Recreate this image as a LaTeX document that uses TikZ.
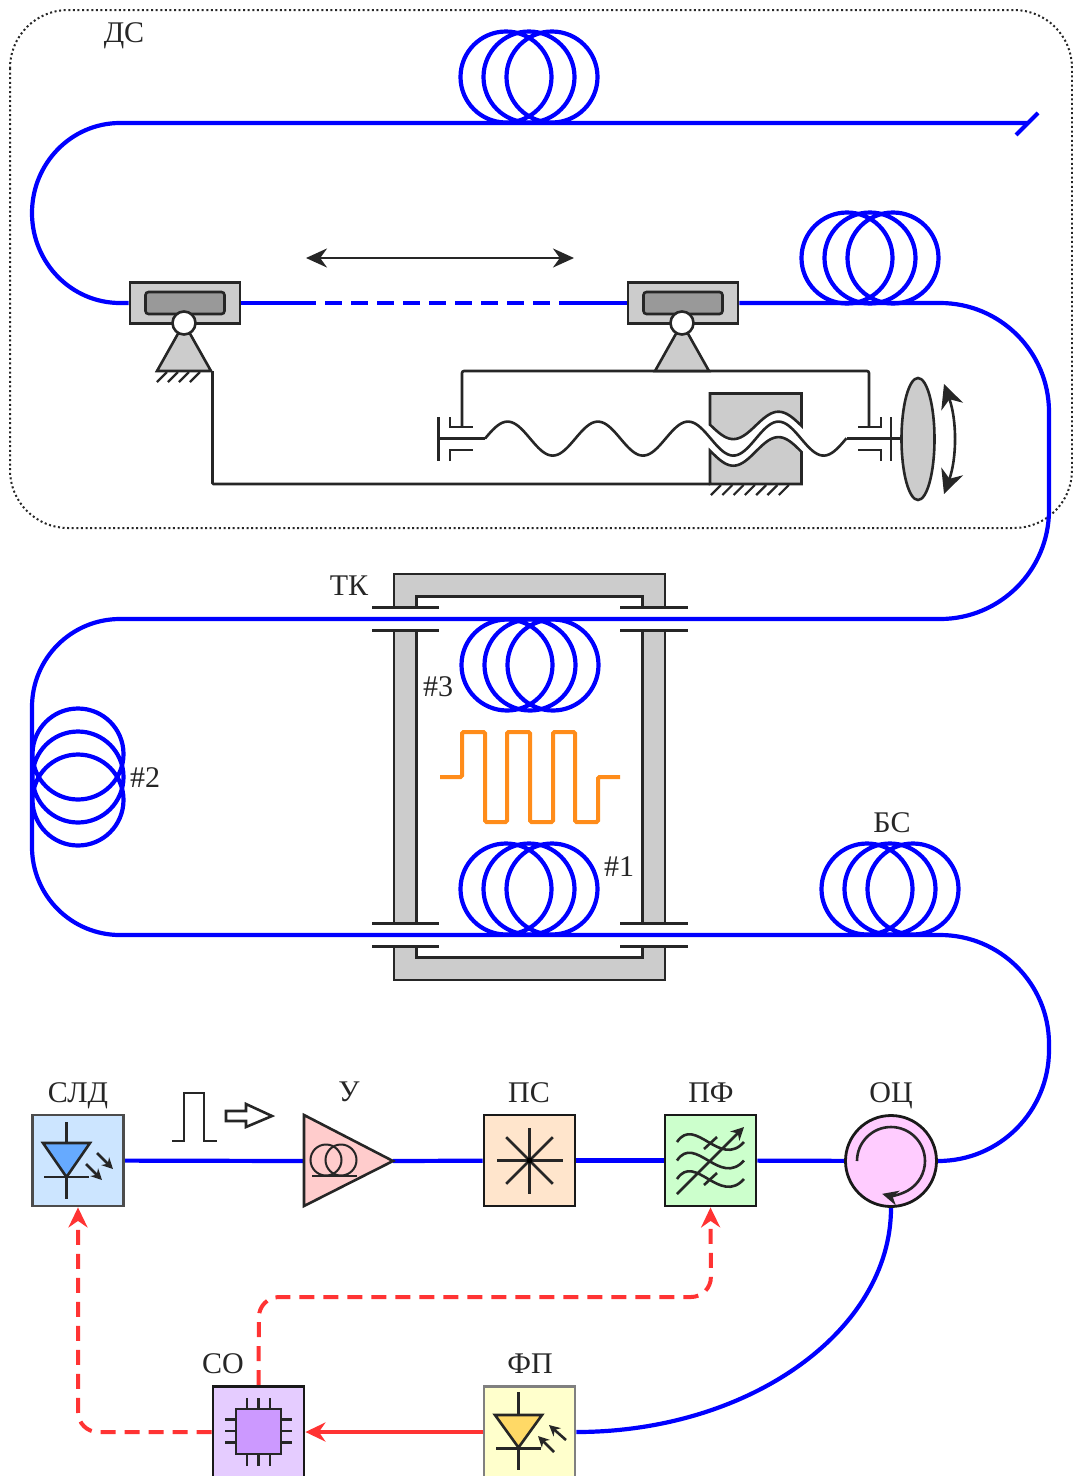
\documentclass[tikz,border=0pt]{standalone}
\usepackage{fontspec}
\setmainfont{Liberation Serif}
\usepackage{tikz}
\usetikzlibrary{arrows.meta,shapes.geometric}
\pgfdeclarelayer{background}
\pgfdeclarelayer{foreground}
\pgfsetlayers{background,main,foreground}
\definecolor{fiberblue}{HTML}{0000FF}
\definecolor{signalred}{HTML}{FF3333}
\definecolor{pulseorange}{HTML}{FF8C1A}
\definecolor{partgray}{HTML}{CCCCCC}
\definecolor{coregray}{HTML}{999999}
\definecolor{sldfill}{HTML}{CCE5FF}
\definecolor{ledfill}{HTML}{66AAFF}
\definecolor{ampfill}{HTML}{FFCCCC}
\definecolor{psfill}{HTML}{FFE5CC}
\definecolor{pffill}{HTML}{CCFFCC}
\definecolor{ocfill}{HTML}{FFCCFF}
\definecolor{cofill}{HTML}{E5CCFF}
\definecolor{chipfill}{HTML}{CC99FF}
\definecolor{fpfill}{HTML}{FFFFCC}
\definecolor{pdfill}{HTML}{FFD966}
\tikzset{
  fiber/.style={draw=fiberblue,line width=4.2pt},
  mech/.style={draw=black!85,line width=2.6pt},
  signal/.style={draw=signalred,line width=4pt},
  signaldash/.style={signal,dash pattern=on 15pt off 9pt,rounded corners=20pt},
  blockbox/.style={draw=#1,line width=2.8pt,minimum size=91pt,inner sep=0pt},
  caption/.style={font=\fontsize{30}{36}\selectfont,text=black!85,inner sep=0pt},
  bigtip/.style={-{Stealth[length=20pt,width=19pt]}},
}
\begin{document}
\begin{tikzpicture}[x=1pt,y=-1pt]
\useasboundingbox (0,0) rectangle (1073,1476);

% delay section outline
\begin{pgfonlayer}{background}
\draw[line width=2pt,black!85,dash pattern=on 2pt off 2.6pt,rounded corners=58pt] (10,10) rectangle (1072,528);
\end{pgfonlayer}

% blocks
\begin{pgfonlayer}{foreground}
\node[blockbox=black!70,fill=sldfill] (sld) at (78,1160.5) {};
\node[blockbox=black!90,fill=psfill] (ps) at (529.5,1160.5) {};
\node[blockbox=black!90,fill=pffill] (pf) at (710.5,1160.5) {};
\node[blockbox=black!90,circle,fill=ocfill] (oc) at (891,1161) {};
\node[blockbox=black!90,fill=cofill] (co) at (258.5,1432) {};
\node[blockbox=black!50,fill=fpfill] (fp) at (529.5,1432) {};
\node[mech,fill=partgray,minimum width=110pt,minimum height=41pt,inner sep=0pt] (carl) at (185,303) {};
\node[mech,fill=partgray,minimum width=110pt,minimum height=41pt,inner sep=0pt] (carr) at (683,303) {};

% amplifier
\coordinate (ampin) at (304,1161);
\coordinate (ampout) at (393,1161);
\draw[mech,fill=ampfill] (304,1115) -- (ampout) -- (304,1206) -- cycle;
\draw[mech,line width=2pt] (326,1160) circle[radius=15.5];
\draw[mech,line width=2pt] (341,1160) circle[radius=15.5];
\draw[mech,line width=2pt] (312,1176) -- (357,1176);

% source diode
\draw[mech,fill=ledfill] (43,1143) -- (90,1143) -- (66.5,1177) -- cycle;
\draw[mech] (66.5,1122) -- (66.5,1143);
\draw[mech] (66.5,1177) -- (66.5,1199);
\draw[mech] (44,1177) -- (89,1177);
\draw[mech,-{Stealth[length=11pt,width=11pt]}] (97,1153) -- (113,1169);
\draw[mech,-{Stealth[length=11pt,width=11pt]}] (86,1164) -- (102,1180);

% scrambler
\foreach \ang in {0,45,...,315}
  \draw[mech] (ps.center) -- ++(\ang:33);
\fill[black] (ps.center) circle[radius=3];

% tunable filter
\foreach \wy in {1142,1160.5,1179}
  \draw[mech] (677,\wy) .. controls (695,\wy-27) and (720,\wy+27) .. (744,\wy);
\draw[mech] (704,1149) -- (717,1137);
\draw[mech] (704,1185) -- (717,1173);
\draw[mech,-{Stealth[length=13pt,width=13pt]}] (677,1194) -- (744,1127);

% circulator
\draw[mech,-{Stealth[length=16pt,width=15pt]}] (857,1161) arc[start angle=180,end angle=465,radius=34];

% photodiode
\draw[mech,fill=pdfill] (495,1415) -- (542,1415) -- (518.5,1447.5) -- cycle;
\draw[mech] (518.5,1392) -- (518.5,1415);
\draw[mech] (518.5,1447.5) -- (518.5,1470);
\draw[mech] (496,1448.5) -- (541,1448.5);
\draw[mech,-{Stealth[length=11pt,width=11pt]}] (566,1440) -- (549,1425);
\draw[mech,-{Stealth[length=11pt,width=11pt]}] (554,1452) -- (538,1436);

% chip
\foreach \pin in {-11.5,0,11.5} {
  \draw[mech] (258.5+\pin,1398) -- (258.5+\pin,1466);
  \draw[mech] (225,1431+\pin) -- (292,1431+\pin);
}
\draw[mech,fill=chipfill] (236,1409) rectangle (281,1454);

% carriages
\foreach \cx/\cxname in {184/l,682/r} {
  \node[mech,fill=coregray,rounded corners=3pt,minimum width=79pt,minimum height=22pt,inner sep=0pt] (core\cxname) at (\cx+1,303) {};
  \draw[mech,fill=partgray] (\cx,323) -- (\cx+27,371) -- (\cx-27,371) -- cycle;
  \node[mech,circle,fill=white,minimum size=23pt,inner sep=0pt] (hinge\cxname) at (\cx,323) {};
}
\end{pgfonlayer}

% fiber coils
\foreach \cx/\cy in {529/77,870/258,530/665,529/889,890/889}
  \foreach \dx in {-23,0,23}
    \draw[fiber] (\cx+\dx,\cy) circle[radius=45.5];
\foreach \dy in {-23,0,23}
  \draw[fiber] (78,777+\dy) circle[radius=45.5];

% fiber run
\coordinate (fiberend) at (1027,123);
\coordinate (gapl) at (316,303);
\coordinate (gapr) at (575,303);
\draw[fiber] (1038,113) -- (1016,135);
\draw[fiber] (fiberend) -- (120,123) arc[start angle=270,end angle=90,x radius=88,y radius=90] -- (carl);
\draw[fiber] (carl) -- (gapl);
\draw[fiber,dash pattern=on 17pt off 9pt,dash phase=17pt] (gapl) -- (gapr);
\draw[fiber] (gapr) -- (carr);
\draw[fiber] (carr) -- (940,303) arc[start angle=270,end angle=360,radius=109] -- (1049,510)
  arc[start angle=0,end angle=90,radius=109] -- (120,619) arc[start angle=270,end angle=180,radius=88]
  -- (32,847) arc[start angle=180,end angle=90,radius=88] -- (940,935)
  arc[start angle=270,end angle=360,radius=109] -- (1049,1050)
  .. controls (1049,1111) and (1000,1161) .. (oc.east);
\draw[fiber] (sld) -- (ampin);
\draw[fiber] (ampout) -- (ps);
\draw[fiber] (ps) -- (pf);
\draw[fiber] (pf) -- (oc);
\draw[fiber] (oc.south) .. controls (891,1331) and (749,1432) .. (fp.east);

% control lines
\draw[signal,bigtip] (fp) -- (co);
\draw[signaldash,bigtip] (co.north) -- (259,1297) -- (711,1297) -- (pf.south);
\draw[signaldash,bigtip] (co.west) -- (78,1432) -- (sld.south);

% travel arrow
\coordinate (travell) at (306,258);
\coordinate (travelr) at (574,258);
\draw[mech,{Stealth[length=21pt,width=19pt]}-{Stealth[length=21pt,width=19pt]}] (travell) -- (travelr);

% screw drive
\draw[mech,fill=partgray] (710,393.5) -- (801.5,393.5) -- plot[domain=801.5:710,samples=40] (\x,{425.4-13.7*sin(3.9867*(\x-485))}) -- cycle;
\draw[mech,fill=partgray] (710,484) -- (801.5,484) -- plot[domain=801.5:710,samples=40] (\x,{451.4-14.3*sin(3.9867*(\x-485))}) -- cycle;
\draw[mech] plot[domain=485:846.5,samples=150] (\x,{438.6-17*sin(3.9867*(\x-485))});
\draw[mech] (438.5,417) -- (438.5,461);
\draw[mech] (438.5,438.5) -- (485,438.5);
\draw[mech] (450,417) -- (450,427) -- (473,427);
\draw[mech] (450,461) -- (450,450) -- (473,450);
\draw[mech] (891,417) -- (891,461);
\draw[mech] (846.5,438.5) -- (902,438.5);
\draw[mech] (881,417) -- (881,427) -- (858,427);
\draw[mech] (881,461) -- (881,450) -- (858,450);
\draw[mech,rounded corners=2pt] (462,427) -- (462,371) -- (869,371) -- (869,427);
\draw[mech,rounded corners=1pt] (212.5,371) -- (212.5,484) -- (710,484);
\node[mech,ellipse,fill=partgray,minimum width=33pt,minimum height=122pt,inner sep=0pt] (lens) at (918,439) {};
\draw[mech,{Stealth[length=24pt,width=23pt]}-{Stealth[length=24pt,width=23pt]}] (944,384) .. controls (957,420) and (957,458) .. (944,494);

% ground hatches
\foreach \hx in {157,168,179,190}
  \draw[mech,line width=2.2pt] (\hx,382) -- (\hx+10,372);
\foreach \hx in {711,722.3,733.6,744.9,756.2,767.5,778.8}
  \draw[mech,line width=2.2pt] (\hx,495) -- (\hx+10,485);

% transducer frame
\draw[mech,fill=partgray] (394,607.7) -- (394,574) -- (665,574) -- (665,607.7) -- (642.3,607.7) -- (642.3,596.7) -- (416.7,596.7) -- (416.7,607.7) -- cycle;
\draw[mech,fill=partgray] (394,946.3) -- (394,980) -- (665,980) -- (665,946.3) -- (642.3,946.3) -- (642.3,957.3) -- (416.7,957.3) -- (416.7,946.3) -- cycle;
\draw[mech,fill=partgray] (394,630.3) rectangle (416.7,923.7);
\draw[mech,fill=partgray] (642.3,630.3) rectangle (665,923.7);
\foreach \fy in {607.7,630.3,923.7,946.3} {
  \draw[mech] (372,\fy) -- (439,\fy);
  \draw[mech] (620,\fy) -- (688,\fy);
}

% drive waveform
\draw[draw=pulseorange,line width=4pt,rounded corners=1.5pt] (440,777) -- (462,777) -- (462,732) -- (485,732) -- (485,822) -- (507,822) -- (507,732) -- (530,732) -- (530,822) -- (553,822) -- (553,732) -- (575,732) -- (575,822) -- (598,822) -- (598,777) -- (620,777);

% launched pulse
\draw[mech] (172,1141) -- (184,1141) -- (184,1093) -- (204,1093) -- (204,1141) -- (217,1141);
\draw[mech,fill=white] (226,1111) -- (246,1111) -- (246,1104) -- (272,1116) -- (246,1127) -- (246,1121) -- (226,1121) -- cycle;

% labels
\node[caption] (dslabel) at (124,36) {ДС};
\node[caption] (tklabel) at (349,586) {ТК};
\node[caption] (coila) at (619,867) {\#1};
\node[caption] (coilb) at (145,778) {\#2};
\node[caption] (coilc) at (438,687) {\#3};
\node[caption] (bslabel) at (892,823) {БС};
\node[caption] (sldlabel) at (78,1096) {СЛД};
\node[caption] (amplabel) at (349,1092) {У};
\node[caption] (pslabel) at (529,1093) {ПС};
\node[caption] (pflabel) at (711,1093) {ПФ};
\node[caption] (oclabel) at (891,1096) {ОЦ};
\node[caption] (colabel) at (223,1364) {СО};
\node[caption] (fplabel) at (530,1364) {ФП};
\end{tikzpicture}
\end{document}
